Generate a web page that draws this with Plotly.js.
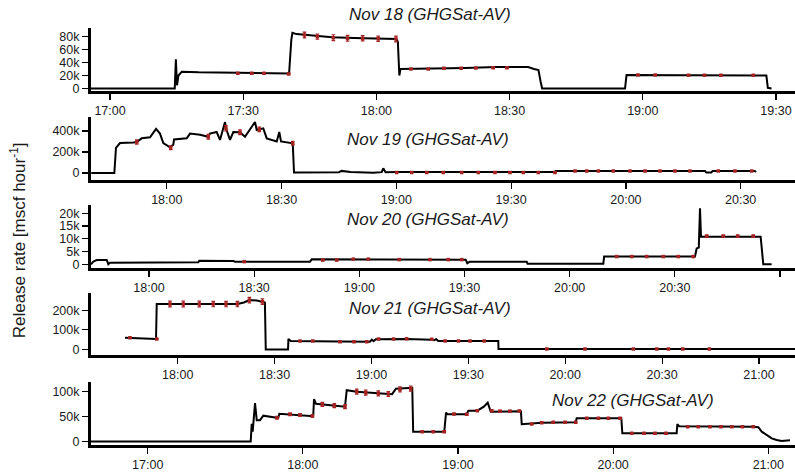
<!DOCTYPE html>
<html>
<head>
<meta charset="utf-8">
<script src="https://cdn.plot.ly/plotly-3.0.1.min.js"></script>
<style>
  html, body { margin: 0; padding: 0; background: #fff; }
  #chart { width: 795px; height: 475px; }
</style>
</head>
<body>
<div id="chart"></div>
<script>
// ---- Metered release rate (black) and averaged estimates with uncertainty (red) ----

// Nov 18
const nov18LineTime = ['16:55:43','17:14:35','17:14:50','17:15:05','17:15:25','17:16:10','17:20:00','17:30:00','17:40:00','17:40:20','17:40:50','17:41:05','17:42:00','17:45:00','17:50:00','17:55:00','18:00:00','18:04:30','18:04:50','18:05:10','18:05:25','18:10:00','18:20:00','18:27:00','18:34:10','18:35:30','18:36:30','18:37:00','18:37:20','18:56:00','18:56:20','19:10:00','19:27:50','19:28:10','19:29:00'];
const nov18LineRate = [0,0,45000,5000,20000,26000,25000,24000,22500,23000,75000,86000,84000,82000,79000,78000,77500,76500,72000,20000,30000,30200,31500,33000,33000,30000,28500,10000,0,0,20800,20500,20000,1000,0];
const nov18PtTime = ['17:28:46','17:31:55','17:34:41','17:40:14','17:43:48','17:46:42','17:50:18','17:53:30','17:56:54','18:00:24','18:04:24','18:07:48','18:11:42','18:15:12','18:19:06','18:22:24','18:26:18','18:29:24','18:58:54','19:02:48','19:10:18','19:13:54','19:17:36','19:24:54'];
const nov18PtRate = [23500,23500,23500,22400,82600,80000,78500,77500,77500,76900,76400,30100,30100,31200,31200,31700,32100,32100,20800,20800,20300,20300,20300,20300];
const nov18PtErr = [800,800,800,800,4500,4000,4500,4500,4000,4000,4500,600,600,600,600,600,600,600,600,600,600,600,600,600];

// Nov 19
const nov19LineTime = ['17:40:15','17:46:17','17:46:43','17:47:46','17:51:15','17:52:08','17:53:26','17:55:37','17:57:11','17:58:13','17:59:05','18:00:50','18:01:42','18:01:53','18:05:12','18:06:04','18:08:41','18:10:51','18:11:17','18:13:02','18:13:54','18:15:13','18:15:28','18:16:31','18:17:23','18:19:08','18:20:26','18:21:45','18:23:03','18:23:30','18:24:11','18:25:13','18:26:07','18:28:44','18:29:24','18:29:51','18:32:55','18:33:15','18:45:00','18:45:40','18:48:00','18:54:00','18:56:10','18:56:35','18:57:10','19:00:00','19:41:20','19:41:40','20:20:40','20:21:00','20:22:20','20:22:40','20:33:40','20:34:00'];
const nov19LineRate = [0,0,240000,285000,290000,295000,330000,340000,420000,375000,285000,245000,270000,320000,330000,375000,365000,345000,375000,390000,315000,485000,425000,315000,390000,388000,345000,410000,485000,410000,415000,425000,330000,300000,390000,300000,283000,5000,8000,20000,10000,3000,8000,45000,8000,10000,10000,20000,20000,5000,5000,20000,20000,8000];
const nov19PtTime = ['17:52:08','18:01:01','18:10:51','18:15:28','18:19:08','18:24:11','18:32:55','19:00:05','19:04:00','19:07:56','19:12:16','19:17:04','19:21:25','19:25:46','19:29:42','19:33:11','19:37:06','19:41:28','19:46:42','19:49:45','19:52:48','19:56:43','20:01:04','20:05:00','20:08:55','20:12:50','20:16:45','20:24:09','20:28:30','20:32:52'];
const nov19PtRate = [295000,241000,345000,426000,388000,415000,283000,5000,5000,5000,5000,5000,5000,5000,5000,5000,5000,5000,19000,19000,19000,19000,19000,19000,19000,19000,19000,19000,19000,19000];
const nov19PtErr = [20000,18000,22000,25000,22000,22000,18000,2000,2000,2000,2000,2000,2000,2000,2000,2000,2000,2000,2000,2000,2000,2000,2000,2000,2000,2000,2000,2000,2000,2000];

// Nov 20
const nov20LineTime = ['17:43:27','17:44:07','17:45:05','17:47:56','17:48:23','17:48:52','18:14:04','18:14:20','18:24:03','18:24:30','18:45:56','18:46:25','19:29:12','19:30:20','19:30:48','19:31:30','19:47:45','19:48:00','20:09:36','20:09:50','20:35:45','20:36:14','20:36:50','20:37:11','20:37:28','20:54:29','20:55:14','20:57:37'];
const nov20LineRate = [0,1000,1650,1650,0,600,800,1400,1300,1000,1000,1900,1800,1800,400,1000,1000,200,200,3000,3000,6200,6500,22000,10800,10800,0,0];
const nov20PtTime = ['18:27:11','18:49:33','18:53:32','18:58:17','19:02:34','19:11:24','19:20:10','19:25:23','19:29:12','20:13:25','20:17:42','20:21:58','20:26:43','20:31:00','20:35:16','20:39:05','20:43:50','20:47:56','20:52:23'];
const nov20PtRate = [1000,1600,1600,2000,2000,1800,1800,1800,1800,3000,3000,3000,3000,3000,3000,11000,11000,11000,11000];
const nov20PtErr = [150,150,150,150,150,150,150,150,150,200,200,200,200,200,200,400,400,400,400];

// Nov 21
const nov21LineTime = ['17:43:41','17:53:17','17:53:30','18:18:29','18:20:30','18:22:12','18:24:30','18:26:14','18:27:00','18:27:16','18:34:10','18:34:17','18:35:00','18:50:16','18:58:32','18:59:30','19:00:07','19:00:40','19:01:20','19:06:50','19:10:53','19:18:39','19:19:30','19:20:00','19:20:40','19:34:56','19:39:16','19:39:20','21:11:09'];
const nov21LineRate = [60000,54000,232000,232000,240000,252000,250000,244000,240000,0,0,54000,43000,41000,40000,40000,50000,42000,52000,54000,54000,50000,47000,53000,43000,43000,43000,2500,2500];
const nov21PtTime = ['17:45:13','17:53:30','17:57:37','18:01:44','18:06:41','18:11:01','18:14:58','18:18:29','18:22:12','18:26:14','18:37:53','18:41:49','18:50:16','18:54:36','18:58:32','19:02:11','19:06:50','19:10:53','19:18:39','19:22:49','19:26:57','19:30:31','19:34:56','19:54:17','20:06:08','20:21:06','20:28:21','20:31:57','20:36:23','20:44:38'];
const nov21PtRate = [60000,54000,232000,232000,232000,232000,232000,232000,252000,244000,43000,43000,40000,40000,40000,54000,54000,55000,52000,43000,43000,43000,43000,2500,2500,2500,2500,2500,2500,2500];
const nov21PtErr = [1500,1500,15000,15000,15000,14000,14000,14000,14000,14000,1000,1000,1000,1000,1000,1000,1000,1000,1000,1000,1000,1000,1000,1000,1000,1000,1000,1000,1000,1000];

// Nov 22
const nov22LineTime = ['16:38:04','17:39:50','17:40:13','17:40:36','17:41:30','17:42:10','17:43:26','17:44:43','17:49:53','17:50:30','17:50:54','18:04:00','18:04:19','18:05:05','18:16:18','18:16:58','18:20:50','18:33:03','18:34:30','18:36:00','18:41:42','18:42:19','18:42:40','18:54:42','18:55:22','18:56:00','19:03:22','19:04:00','19:07:28','19:10:00','19:11:30','19:12:23','19:12:40','19:24:20','19:24:39','19:32:22','19:45:31','19:45:54','20:03:10','20:03:33','20:24:34','20:24:50','20:25:30','20:54:13','20:56:09','20:57:28','21:01:19','21:03:15','21:05:11','21:08:24'];
const nov22LineRate = [500,500,36000,20000,77000,43000,43000,52000,48000,48000,56000,51000,85000,76000,70000,103000,100000,95000,95000,106000,108000,108000,20000,20000,58000,55000,55000,62000,62000,70000,78000,62000,60000,61000,35000,38000,38800,46800,46800,16700,16700,35000,31000,30000,29000,20000,6700,3400,1400,3000];
const nov22PtTime = ['17:50:00','17:55:02','17:58:54','18:03:40','18:07:32','18:12:10','18:16:18','18:20:50','18:24:19','18:29:11','18:33:03','18:37:34','18:41:42','18:46:11','18:50:27','18:54:42','18:58:28','19:03:22','19:07:28','19:13:02','19:16:15','19:20:07','19:23:43','19:28:30','19:32:22','19:36:51','19:41:23','19:45:31','19:49:46','19:54:17','19:58:09','20:02:40','20:07:11','20:11:56','20:16:11','20:20:26','20:28:50','20:32:56','20:37:27','20:41:43','20:45:52','20:49:58','20:54:13'];
const nov22PtRate = [48000,54700,53400,51400,74700,72000,70000,100000,98000,96700,95400,104700,106000,20000,20000,20000,55400,54700,62000,62000,61000,61000,61400,35400,38000,38800,38800,38800,46800,46800,46800,46800,16700,16700,16700,16700,30000,30000,30000,30000,30000,30000,30000];
const nov22PtErr = [2500,2500,2500,2500,4000,4000,4000,5000,5000,5000,5000,5000,5000,1000,1000,1000,1500,1500,1500,1500,1500,1500,1500,1000,1000,1000,1000,1000,1000,1000,1000,1000,1000,1000,1000,1000,1000,1000,1000,1000,1000,1000,1000];

// Axis ticks and panel titles
const nov18XTicks = ['17:00','17:30','18:00','18:30','19:00','19:30'];
const nov19XTicks = ['18:00','18:30','19:00','19:30','20:00','20:30'];
const nov20XTicks = ['18:00','18:30','19:00','19:30','20:00','20:30','21:00'];
const nov21XTicks = ['18:00','18:30','19:00','19:30','20:00','20:30','21:00'];
const nov22XTicks = ['17:00','18:00','19:00','20:00','21:00'];

const nov18YTickVals = [0,20000,40000,60000,80000];
const nov18YTickText = ['0','20k','40k','60k','80k'];
const nov19YTickVals = [0,200000,400000];
const nov19YTickText = ['0','200k','400k'];
const nov20YTickVals = [0,5000,10000,15000,20000];
const nov20YTickText = ['0','5k','10k','15k','20k'];
const nov21YTickVals = [0,100000,200000];
const nov21YTickText = ['0','100k','200k'];
const nov22YTickVals = [0,50000,100000];
const nov22YTickText = ['0','50k','100k'];

const panelTitles = ['Nov 18 (GHGSat-AV)','Nov 19 (GHGSat-AV)','Nov 20 (GHGSat-AV)','Nov 21 (GHGSat-AV)','Nov 22 (GHGSat-AV)'];
const yAxisTitle = 'Release rate [mscf hour<sup>-1</sup>]';

// ---- Figure geometry (pixels) ----
const W = 795, H = 475, L = 91;
const px = v => (v - L) / (W - L);   // pixel column -> paper x
const py = v => (H - v) / H;         // pixel row -> paper y

const FONT = 'Liberation Sans, Arial, Helvetica, sans-serif';
const RED = '#a52323';

const panels = [
  { date: '2022-11-18', top: 28,    bottom: 90.5,  yRange: [-3100, 93400],  xRange: ['16:55:43', '19:34:17'],
    line: [nov18LineTime, nov18LineRate], pts: [nov18PtTime, nov18PtRate, nov18PtErr],
    xTicks: nov18XTicks, yVals: nov18YTickVals, yText: nov18YTickText, title: [430, 15] },
  { date: '2022-11-19', top: 116.7, bottom: 179.5, yRange: [-62000, 536000], xRange: ['17:40:11', '20:44:12'],
    line: [nov19LineTime, nov19LineRate], pts: [nov19PtTime, nov19PtRate, nov19PtErr],
    xTicks: nov19XTicks, yVals: nov19YTickVals, yText: nov19YTickText, title: [428, 139.3] },
  { date: '2022-11-20', top: 205,   bottom: 268,   yRange: [-1490, 23260],  xRange: ['17:43:27', '21:04:17'],
    line: [nov20LineTime, nov20LineRate], pts: [nov20PtTime, nov20PtRate, nov20PtErr],
    xTicks: nov20XTicks, yVals: nov20YTickVals, yText: nov20YTickText, title: [428, 219] },
  { date: '2022-11-21', top: 293.3, bottom: 355.2, yRange: [-29100, 286700], xRange: ['17:33:09', '21:11:09'],
    line: [nov21LineTime, nov21LineRate], pts: [nov21PtTime, nov21PtRate, nov21PtErr],
    xTicks: nov21XTicks, yVals: nov21YTickVals, yText: nov21YTickText, title: [430, 308.3] },
  { date: '2022-11-22', top: 381.7, bottom: 445,   yRange: [-6600, 120000], xRange: ['16:38:04', '21:10:20'],
    line: [nov22LineTime, nov22LineRate], pts: [nov22PtTime, nov22PtRate, nov22PtErr],
    xTicks: nov22XTicks, yVals: nov22YTickVals, yText: nov22YTickText, title: [633, 400] }
];

const axisBase = {
  showline: true, linecolor: '#000', linewidth: 3,
  ticks: 'outside', ticklen: 6, tickwidth: 1.2, tickcolor: '#000',
  showgrid: false, zeroline: false, fixedrange: true,
  tickfont: { family: FONT, size: 12.5, color: '#1a1a1a' }
};

const traces = [];
const layout = {
  width: W, height: H,
  margin: { l: L, r: 0, t: 0, b: 0, pad: 0 },
  paper_bgcolor: '#fff', plot_bgcolor: '#fff',
  showlegend: false,
  font: { family: FONT, color: '#1a1a1a' },
  annotations: []
};

panels.forEach((p, i) => {
  const n = i + 1;
  const xa = 'x' + n, ya = 'y' + n;
  const stamp = t => p.date + ' ' + t;

  traces.push({
    type: 'scatter', mode: 'lines', xaxis: xa, yaxis: ya,
    x: p.line[0].map(stamp), y: p.line[1],
    line: { color: '#000', width: 2 }, hoverinfo: 'skip'
  });
  traces.push({
    type: 'scatter', mode: 'markers', xaxis: xa, yaxis: ya,
    x: p.pts[0].map(stamp), y: p.pts[1],
    marker: { symbol: 'square', size: 3.5, color: RED },
    error_y: { type: 'data', array: p.pts[2], visible: true, color: RED, thickness: 1.2, width: 1.8 },
    hoverinfo: 'skip'
  });

  layout['xaxis' + n] = Object.assign({}, axisBase, {
    type: 'date', anchor: ya, domain: [0, 1],
    range: p.xRange.map(stamp),
    tickmode: 'array', tickvals: p.xTicks.map(t => stamp(t + ':00')), ticktext: p.xTicks
  });
  layout['yaxis' + n] = Object.assign({}, axisBase, {
    anchor: xa, domain: [py(p.bottom), py(p.top)],
    range: p.yRange,
    tickmode: 'array', tickvals: p.yVals, ticktext: p.yText
  });

  layout.annotations.push({
    text: panelTitles[i], xref: 'paper', yref: 'paper',
    x: px(p.title[0]), y: py(p.title[1]), xanchor: 'center', yanchor: 'middle',
    showarrow: false, font: { family: FONT, size: 17, color: '#1a1a1a', style: 'italic' }
  });
});

layout.annotations.push({
  text: yAxisTitle, xref: 'paper', yref: 'paper',
  x: px(18.3), y: py(240), xanchor: 'center', yanchor: 'middle', textangle: -90,
  showarrow: false, font: { family: FONT, size: 17, color: '#1a1a1a' }
});

Plotly.newPlot('chart', traces, layout, { displayModeBar: false, staticPlot: true });
</script>
</body>
</html>
